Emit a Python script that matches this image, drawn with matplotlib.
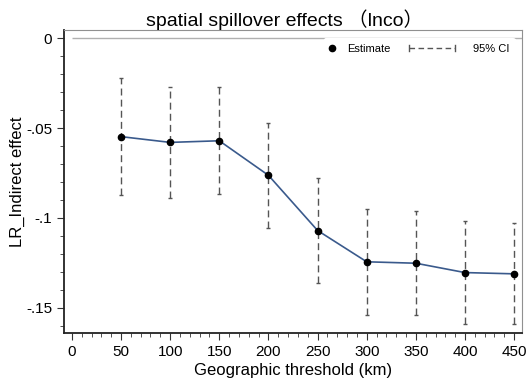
import numpy as np
import matplotlib.pyplot as plt
from matplotlib.ticker import MultipleLocator
from matplotlib.lines import Line2D
from matplotlib.legend_handler import HandlerBase

plt.rcParams['font.family'] = ['Liberation Sans', 'Noto Sans CJK SC', 'DejaVu Sans']

# 数据
threshold = [50, 100, 150, 200, 250, 300, 350, 400, 450]
estimate = [-0.0548, -0.0580, -0.0571, -0.0763, -0.1070, -0.1244, -0.1252, -0.1304, -0.1311]
ci_upper = [-0.0224, -0.0274, -0.0274, -0.0470, -0.0780, -0.0952, -0.0963, -0.1015, -0.1028]
ci_lower = [-0.0872, -0.0890, -0.0868, -0.1057, -0.1363, -0.1539, -0.1539, -0.1589, -0.1590]
yticks = [0, -0.05, -0.1, -0.15]
ytick_labels = ['0', '-.05', '-.1', '-.15']
xticks = [0, 50, 100, 150, 200, 250, 300, 350, 400, 450]

CI_COLOR = '#555555'
DASH = (0, (5, 3))


class DotHandler(HandlerBase):
    def create_artists(self, legend, orig, xd, yd, w, h, fs, trans):
        d = Line2D([w / 2], [h / 2], marker='o', color='black', ms=4.5,
                   ls='none', transform=trans)
        return [d]


class CIHandler(HandlerBase):
    # 水平虚线加两端竖线，向左伸出句柄框（单位: 点）
    def create_artists(self, legend, orig, xd, yd, w, h, fs, trans):
        y = h / 2
        x0, x1 = w - 36, w - 3
        ln = Line2D([x0, x1], [y, y], color=CI_COLOR, lw=1.0, ls=(0, (4, 2.5)),
                    transform=trans)
        c1 = Line2D([x0, x0], [y - 2.2, y + 2.2], color=CI_COLOR, lw=1.0, transform=trans)
        c2 = Line2D([x1, x1], [y - 2.2, y + 2.2], color=CI_COLOR, lw=1.0, transform=trans)
        return [ln, c1, c2]


fig = plt.figure(figsize=(5.27, 3.84), dpi=100)
ax = fig.add_axes([64 / 527, 1 - 333 / 384, 458 / 527, 303 / 384])

x = np.array(threshold)
lo = np.array(ci_lower)
hi = np.array(ci_upper)

ax.hlines(0, 0, 460, color='#b0b0b0', lw=1.0, zorder=1)

# 置信区间
ax.vlines(x, lo, hi, colors=CI_COLOR, linestyles=DASH, lw=1.0, zorder=2)
ax.hlines(hi, x - 2, x + 2, colors=CI_COLOR, lw=1.0, zorder=2)
ax.hlines(lo, x - 2, x + 2, colors=CI_COLOR, lw=1.0, zorder=2)

ax.plot(x, estimate, color='#3a5a8c', lw=1.2, zorder=3)
ax.plot(x, estimate, 'o', color='black', ms=4.5, zorder=4)

ax.set_xlim(-8, 458)
ax.set_ylim(-0.164, 0.0045)
ax.set_xticks(xticks)
ax.xaxis.set_minor_locator(MultipleLocator(10))
ax.set_yticks(yticks)
ax.set_yticklabels(ytick_labels)
ax.yaxis.set_minor_locator(MultipleLocator(0.01))
ax.tick_params(which='major', length=5, labelsize=11, color='#333333')
ax.tick_params(which='minor', length=3, color='#333333')

for s in ['top', 'right']:
    ax.spines[s].set_color('#909090')
    ax.spines[s].set_linewidth(0.8)
for s in ['left', 'bottom']:
    ax.spines[s].set_color('#222222')
    ax.spines[s].set_linewidth(1.3)

ax.set_xlabel('Geographic threshold (km)', fontsize=12, labelpad=3)
ax.set_ylabel('LR_Indirect effect', fontsize=12, labelpad=1)
fig.text(284 / 527, 1 - 20 / 384, 'spatial spillover effects （lnco）', fontsize=14,
         ha='center', va='center')

# 图例
h_est = object()
h_ci = object()
leg = ax.legend([h_est, h_ci], ['Estimate', '95% CI'], loc='upper right', ncol=2,
                handler_map={h_est: DotHandler(), h_ci: CIHandler()},
                frameon=True, fontsize=8, framealpha=1, edgecolor='white',
                handlelength=0.3, handletextpad=1.2, columnspacing=5.9,
                borderpad=0.6, borderaxespad=0, bbox_to_anchor=(0.986, 0.975))
leg.get_frame().set_linewidth(0)

fig.savefig('out.png', dpi=100)
